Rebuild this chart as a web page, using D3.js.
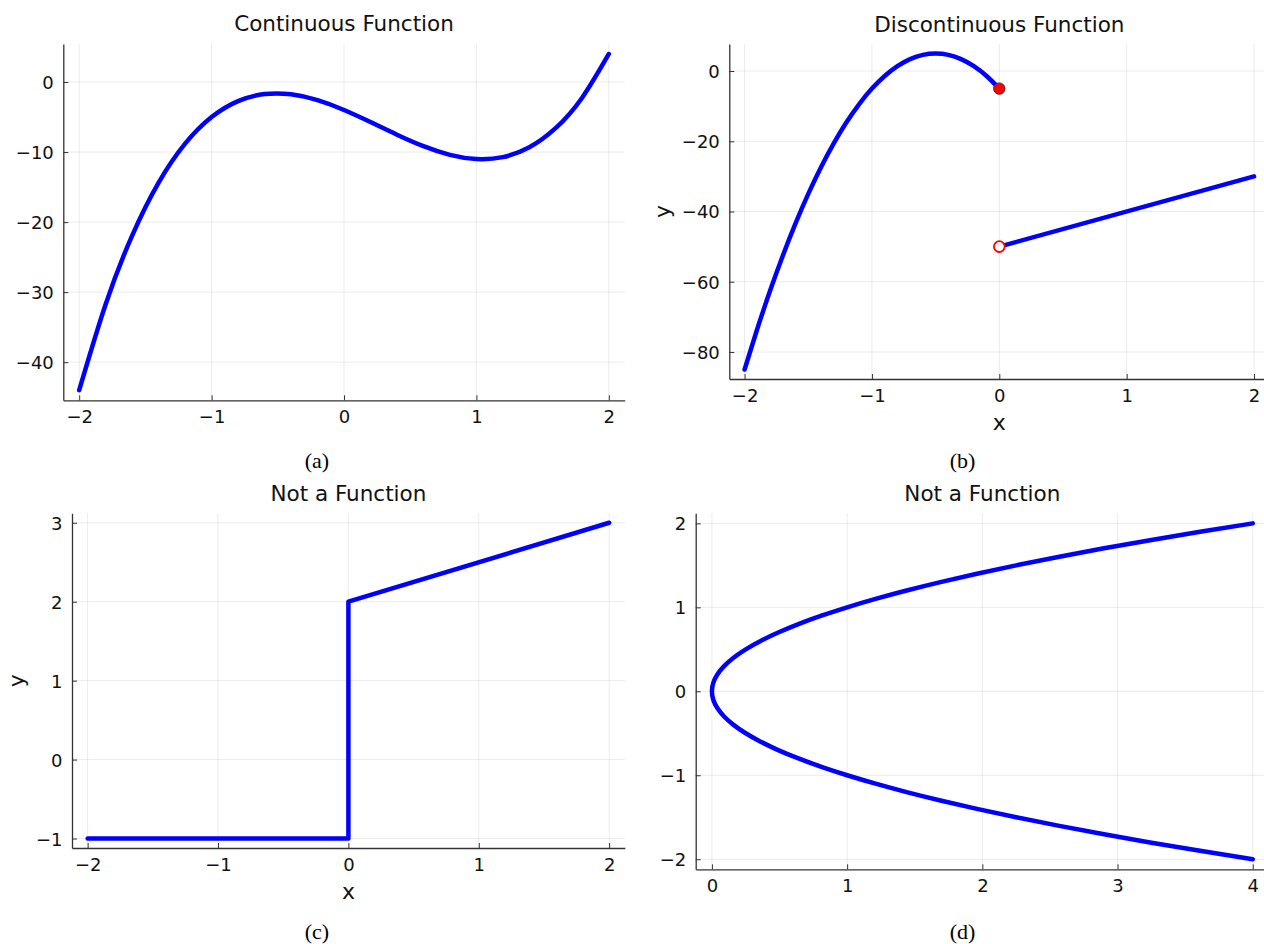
<!DOCTYPE html>
<html>
<head>
<meta charset="utf-8">
<script src="https://cdn.jsdelivr.net/npm/d3@7"></script>
<style>
  html, body { margin: 0; padding: 0; background: #fff; }
  svg { display: block; }
  .tick-label { font-family: "DejaVu Sans", sans-serif; font-size: 18px; fill: #111; }
  .title { font-family: "DejaVu Sans", sans-serif; font-size: 21.5px; fill: #111; }
  .guide { font-family: "DejaVu Sans", sans-serif; font-size: 22px; fill: #111; }
  .caption { font-family: "Liberation Serif", "Times New Roman", serif; font-size: 22px; fill: #000; }
</style>
</head>
<body>
<svg id="chart" width="1264" height="944"></svg>
<script>
// ---------------- DATA ----------------
// (a) Continuous function samples
const contX = [-2, -1.8, -1.6, -1.4, -1.2, -1, -0.8, -0.6, -0.4, -0.2, 0, 0.2, 0.4, 0.6, 0.8, 1, 1.2, 1.4, 1.6, 1.8, 2];
const contY = [-44, -31.72, -21.92, -14.36, -8.8, -5, -2.72, -1.72, -1.76, -2.6, -4, -5.72, -7.52, -9.16, -10.4, -11, -10.72, -9.32, -6.56, -2.2, 4];

// (b) Discontinuous function: left branch, right branch, endpoint markers
const discLeftX = [-2, -1.9, -1.8, -1.7, -1.6, -1.5, -1.4, -1.3, -1.2, -1.1, -1, -0.9, -0.8, -0.7, -0.6, -0.5, -0.4, -0.3, -0.2, -0.1, 0];
const discLeftY = [-85, -73.4, -62.6, -52.6, -43.4, -35, -27.4, -20.6, -14.6, -9.4, -5, -1.4, 1.4, 3.4, 4.6, 5, 4.6, 3.4, 1.4, -1.4, -5];
const discRightX = [0, 2];
const discRightY = [-50, -30];
const closedPoint = [0, -5];
const openPoint = [0, -50];

// (c) Not a function: step with vertical jump
const stepX = [-2, 0, 0, 2];
const stepY = [-1, -1, 2, 3];

// (d) Not a function: sideways parabola
const paraY = [-2, -1.9, -1.8, -1.7, -1.6, -1.5, -1.4, -1.3, -1.2, -1.1, -1, -0.9, -0.8, -0.7, -0.6, -0.5, -0.4, -0.3, -0.2, -0.1, 0,
               0.1, 0.2, 0.3, 0.4, 0.5, 0.6, 0.7, 0.8, 0.9, 1, 1.1, 1.2, 1.3, 1.4, 1.5, 1.6, 1.7, 1.8, 1.9, 2];
const paraX = [4, 3.61, 3.24, 2.89, 2.56, 2.25, 1.96, 1.69, 1.44, 1.21, 1, 0.81, 0.64, 0.49, 0.36, 0.25, 0.16, 0.09, 0.04, 0.01, 0,
               0.01, 0.04, 0.09, 0.16, 0.25, 0.36, 0.49, 0.64, 0.81, 1, 1.21, 1.44, 1.69, 1.96, 2.25, 2.56, 2.89, 3.24, 3.61, 4];

// Tick values
const xTicksABC = [-2, -1, 0, 1, 2];
const yTicksA = [-40, -30, -20, -10, 0];
const yTicksB = [-80, -60, -40, -20, 0];
const yTicksC = [-1, 0, 1, 2, 3];
const xTicksD = [0, 1, 2, 3, 4];
const yTicksD = [-2, -1, 0, 1, 2];

// Titles / labels
const titles = ["Continuous Function", "Discontinuous Function", "Not a Function", "Not a Function"];
const captions = ["(a)", "(b)", "(c)", "(d)"];

// ---------------- DRAW ----------------
const svg = d3.select("#chart");
const fmt = d3.format("d");

function pad(ext) { const r = ext[1] - ext[0]; return [ext[0] - 0.03 * r, ext[1] + 0.03 * r]; }

function panel(cfg) {
  const x = d3.scaleLinear().domain(pad(cfg.xExt)).range([cfg.left, cfg.right]);
  const y = d3.scaleLinear().domain(pad(cfg.yExt)).range([cfg.bottom, cfg.top]);
  const g = svg.append("g");

  // grid
  g.append("g").selectAll("line").data(cfg.xTicks).join("line")
    .attr("x1", d => x(d)).attr("x2", d => x(d))
    .attr("y1", cfg.top).attr("y2", cfg.bottom)
    .attr("stroke", "#000").attr("stroke-opacity", 0.08).attr("stroke-width", 1);
  g.append("g").selectAll("line").data(cfg.yTicks).join("line")
    .attr("y1", d => y(d)).attr("y2", d => y(d))
    .attr("x1", cfg.left).attr("x2", cfg.right)
    .attr("stroke", "#000").attr("stroke-opacity", 0.08).attr("stroke-width", 1);

  // axes (inward ticks, left & bottom spines)
  const xAxis = d3.axisBottom(x).tickValues(cfg.xTicks).tickFormat(fmt).tickSizeInner(-5).tickSizeOuter(0).tickPadding(0);
  const yAxis = d3.axisLeft(y).tickValues(cfg.yTicks).tickFormat(fmt).tickSizeInner(-5).tickSizeOuter(0).tickPadding(0);
  const gx = g.append("g").attr("transform", `translate(0,${cfg.bottom})`).call(xAxis);
  const gy = g.append("g").attr("transform", `translate(${cfg.left},0)`).call(yAxis);
  [gx, gy].forEach(a => {
    a.select(".domain").attr("stroke", "#333").attr("stroke-width", 1.3);
    a.selectAll(".tick line").attr("stroke", "#333").attr("stroke-width", 1);
    a.selectAll(".tick text").attr("class", "tick-label").attr("font-family", null).attr("font-size", null).attr("fill", null);
  });
  gx.selectAll(".tick text").attr("y", 22.5).attr("dy", null);
  gy.selectAll(".tick text").attr("x", -9.5).attr("dy", "0.36em");

  // title
  svg.append("text").attr("class", "title")
    .attr("x", (cfg.left + cfg.right) / 2).attr("y", cfg.top - 12.5)
    .attr("text-anchor", "middle").text(cfg.title);

  if (cfg.xLabel) {
    svg.append("text").attr("class", "guide")
      .attr("x", (cfg.left + cfg.right) / 2).attr("y", cfg.bottom + 51)
      .attr("text-anchor", "middle").text(cfg.xLabel);
  }
  if (cfg.yLabel) {
    svg.append("text").attr("class", "guide")
      .attr("transform", `translate(${cfg.yLabelX},${(cfg.top + cfg.bottom) / 2}) rotate(-90)`)
      .attr("text-anchor", "middle").text(cfg.yLabel);
  }
  svg.append("text").attr("class", "caption")
    .attr("x", cfg.capX).attr("y", cfg.capY)
    .attr("text-anchor", "middle").text(cfg.caption);

  return { g, x, y };
}

function drawLine(p, xs, ys, curve) {
  const pts = xs.map((v, i) => [v, ys[i]]);
  p.g.append("path").datum(pts)
    .attr("fill", "none").attr("stroke", "#0000ff").attr("stroke-width", 4.5)
    .attr("stroke-linecap", "round").attr("stroke-linejoin", "round")
    .attr("d", d3.line().x(d => p.x(d[0])).y(d => p.y(d[1])).curve(curve));
}

// (a)
const pA = panel({ left: 63.3, right: 624.7, top: 43.9, bottom: 400.3,
  xExt: [-2, 2], yExt: [-44, 4], xTicks: xTicksABC, yTicks: yTicksA,
  title: titles[0], caption: captions[0], capX: 317, capY: 468 });
drawLine(pA, contX, contY, d3.curveNatural);

// (b)
const pB = panel({ left: 729.3, right: 1269.3, top: 44, bottom: 379,
  xExt: [-2, 2], yExt: [-85, 5], xTicks: xTicksABC, yTicks: yTicksB,
  title: titles[1], xLabel: "x", yLabel: "y", yLabelX: 669.5,
  caption: captions[1], capX: 962.5, capY: 468 });
drawLine(pB, discLeftX, discLeftY, d3.curveNatural);
drawLine(pB, discRightX, discRightY, d3.curveLinear);
pB.g.append("circle").attr("cx", pB.x(closedPoint[0])).attr("cy", pB.y(closedPoint[1])).attr("r", 5.7)
  .attr("fill", "#ff0000").attr("stroke", "#333").attr("stroke-width", 1);
pB.g.append("circle").attr("cx", pB.x(openPoint[0])).attr("cy", pB.y(openPoint[1])).attr("r", 5.4)
  .attr("fill", "#fff").attr("stroke", "#ff0000").attr("stroke-width", 1.8);

// (c)
const pC = panel({ left: 72, right: 624.8, top: 513.3, bottom: 848,
  xExt: [-2, 2], yExt: [-1, 3], xTicks: xTicksABC, yTicks: yTicksC,
  title: titles[2], xLabel: "x", yLabel: "y", yLabelX: 24,
  caption: captions[2], capX: 317, capY: 939 });
drawLine(pC, stepX, stepY, d3.curveLinear);

// (d)
const pD = panel({ left: 695.7, right: 1269, top: 513.3, bottom: 869.3,
  xExt: [0, 4], yExt: [-2, 2], xTicks: xTicksD, yTicks: yTicksD,
  title: titles[3], caption: captions[3], capX: 962.5, capY: 939 });
drawLine(pD, paraX, paraY, d3.curveNatural);
</script>
</body>
</html>
